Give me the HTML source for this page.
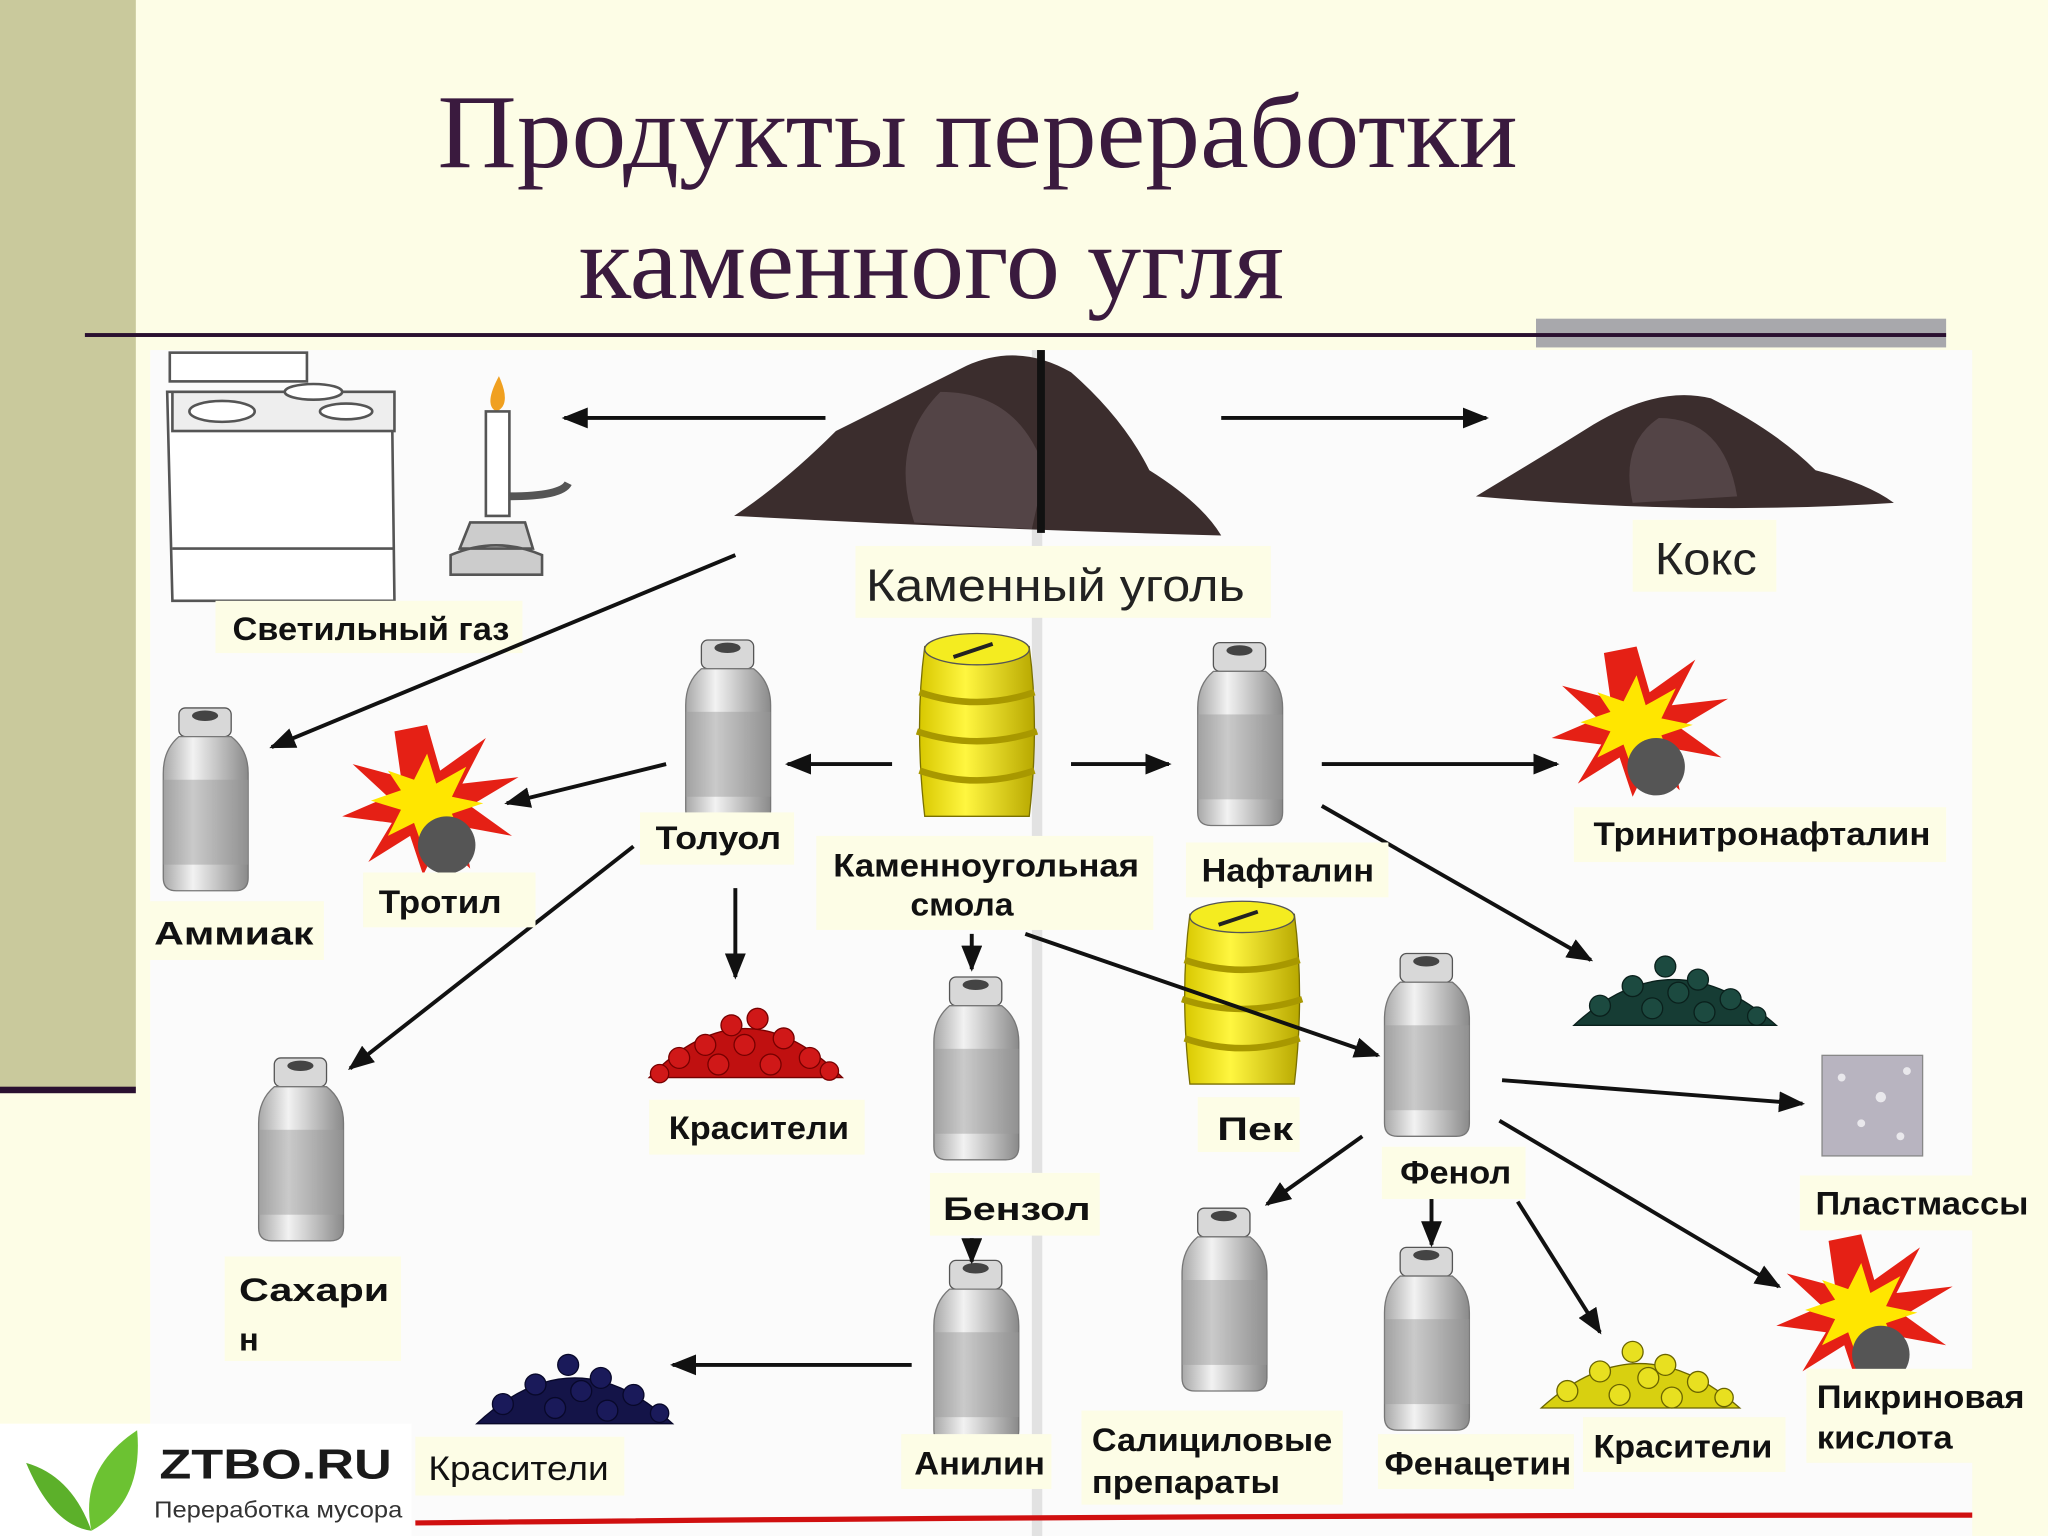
<!DOCTYPE html>
<html><head><meta charset="utf-8"><style>
html,body{margin:0;padding:0;background:#fdfde6;}
svg{display:block;}
text{font-family:"Liberation Sans","DejaVu Sans",sans-serif;}
.t{font-family:"Liberation Serif",serif;fill:#3a1a3e;}
.l{font-weight:bold;font-size:25px;fill:#111;}
.lb{fill:#fdfde6;}
</style></head><body>
<svg width="2048" height="1536" viewBox="0 0 1568 1176" xmlns="http://www.w3.org/2000/svg">
<defs>
<marker id="ah" markerWidth="20" markerHeight="16" refX="18" refY="8" orient="auto" markerUnits="userSpaceOnUse"><path d="M0,0 L20,8 L0,16 z" fill="#111"/></marker>
<linearGradient id="bg" x1="0" x2="1"><stop offset="0" stop-color="#a8a8a8"/><stop offset="0.35" stop-color="#f2f2f2"/><stop offset="1" stop-color="#8a8a8a"/></linearGradient>
<linearGradient id="yg" x1="0" x2="1"><stop offset="0" stop-color="#d8c800"/><stop offset="0.4" stop-color="#fff640"/><stop offset="1" stop-color="#b8a800"/></linearGradient>
<g id="bottle">
<rect x="12" y="0" width="40" height="22" rx="5" fill="#d8d8d8" stroke="#555"/>
<ellipse cx="32" cy="6" rx="10" ry="4" fill="#444"/>
<path d="M12,22 Q0,32 0,50 L0,130 Q0,140 10,140 L55,140 Q65,140 65,130 L65,50 Q65,32 52,22 z" fill="url(#bg)" stroke="#777"/>
<rect x="0" y="55" width="65" height="65" fill="#999" opacity="0.45"/>
</g>
<g id="barrel">
<path d="M8,10 Q0,70 8,140 L88,140 Q96,70 88,10 z" fill="url(#yg)" stroke="#7a7000"/>
<ellipse cx="48" cy="12" rx="40" ry="12" fill="#f4ec20" stroke="#555"/>
<path d="M4,45 Q48,60 92,45 M2,75 Q48,90 94,75 M4,105 Q48,120 92,105" stroke="#a89800" stroke-width="5" fill="none"/>
<path d="M30,18 L60,8" stroke="#222" stroke-width="3"/>
</g>
<g id="boom">
<polygon points="65,0 75,35 110,10 92,45 135,40 98,62 130,85 92,78 98,110 75,88 62,115 52,85 20,105 38,75 0,70 35,55 8,30 45,40 40,5" fill="#e52015"/>
<polygon points="65,22 72,45 95,32 84,55 108,60 84,68 92,88 70,76 62,95 55,75 35,85 45,65 22,58 45,50 35,35 55,42" fill="#ffe600"/>
<circle cx="80" cy="92" r="22" fill="#555"/>
</g>
</defs>
<rect width="1568" height="1176" fill="#fdfde6"/>
<rect x="0" y="0" width="104" height="835" fill="#c9c99c"/>
<rect x="0" y="832" width="104" height="5" fill="#2a1030"/>
<text class="t" x="335" y="128" font-size="80" textLength="827" lengthAdjust="spacingAndGlyphs">Продукты переработки</text>
<text class="t" x="443" y="228" font-size="80" textLength="540" lengthAdjust="spacingAndGlyphs">каменного угля</text>
<rect x="1176" y="244" width="314" height="22" fill="#a8a8ac"/>
<rect x="65" y="255" width="1425" height="3" fill="#2a1030"/>
<rect x="115" y="268" width="1395" height="908" fill="#fbfbfb"/>
<rect x="790" y="268" width="8" height="908" fill="#e2e2e2"/>
<g stroke="#555" fill="#fff" stroke-width="2">
<rect x="130" y="270" width="105" height="22"/>
<path d="M128,300 L300,300 L302,460 L132,460 z"/>
<rect x="132" y="300" width="170" height="30" fill="#eee"/>
<ellipse cx="170" cy="315" rx="25" ry="8"/><ellipse cx="240" cy="300" rx="22" ry="6"/><ellipse cx="265" cy="315" rx="20" ry="6"/>
<line x1="132" y1="420" x2="302" y2="420"/>
</g>
<path d="M382,288 Q370,310 380,315 Q392,310 382,288z" fill="#f0a020"/>
<rect x="372" y="315" width="18" height="80" fill="#fff" stroke="#555" stroke-width="2"/>
<path d="M360,400 L402,400 L408,420 L352,420z M345,425 Q380,410 415,425 L415,440 L345,440z" fill="#ccc" stroke="#555" stroke-width="2"/>
<path d="M390,380 Q430,380 435,370" stroke="#555" stroke-width="6" fill="none"/>
<path d="M562,395 Q600,370 640,330 Q700,300 740,280 Q780,262 820,285 Q860,320 880,360 Q920,385 935,410 Q750,405 562,395z" fill="#3b2d2d"/>
<path d="M720,300 Q780,300 800,360 L790,405 L700,400 Q680,340 720,300z" fill="#5a4a4c" opacity="0.8"/>
<rect x="794" y="268" width="6" height="140" fill="#111"/>
<path d="M1130,380 Q1180,350 1220,325 Q1270,295 1310,305 Q1360,330 1390,360 Q1430,370 1450,385 Q1300,395 1130,380z" fill="#3b2d2d"/>
<path d="M1270,320 Q1320,320 1330,380 L1250,385 Q1240,340 1270,320z" fill="#5a4a4c" opacity="0.8"/>
<rect x="655" y="418" width="318" height="55" class="lb"/>
<text x="663" y="460" font-size="35" fill="#222" textLength="290" lengthAdjust="spacingAndGlyphs">Каменный уголь</text>
<rect x="1250" y="398" width="110" height="55" class="lb"/>
<text x="1267" y="440" font-size="35" fill="#222" textLength="78" lengthAdjust="spacingAndGlyphs">Кокс</text>
<rect x="165" y="460" width="235" height="40" class="lb"/>
<text class="l" x="178" y="490" textLength="212" lengthAdjust="spacingAndGlyphs">Светильный газ</text>
<use href="#bottle" x="125" y="542"/>
<use href="#bottle" x="525" y="490"/>
<use href="#bottle" x="917" y="492"/>
<use href="#bottle" x="715" y="748"/>
<use href="#bottle" x="1060" y="730"/>
<use href="#bottle" x="198" y="810"/>
<use href="#bottle" x="905" y="925"/>
<use href="#bottle" x="1060" y="955"/>
<use href="#bottle" x="715" y="965"/>
<use href="#barrel" x="700" y="485"/>
<use href="#barrel" x="903" y="690"/>
<use href="#boom" x="262" y="555"/>
<use href="#boom" x="1188" y="495"/>
<use href="#boom" x="1360" y="945"/>
<g fill="#d01818" stroke="#700" stroke-width="1">
<path d="M497,825 Q570,750 645,825z" fill="#c01010"/>
<circle cx="520" cy="810" r="8"/><circle cx="540" cy="800" r="8"/><circle cx="560" cy="785" r="8"/><circle cx="580" cy="780" r="8"/><circle cx="600" cy="795" r="8"/><circle cx="620" cy="810" r="8"/><circle cx="550" cy="815" r="8"/><circle cx="590" cy="815" r="8"/><circle cx="570" cy="800" r="8"/><circle cx="635" cy="820" r="7"/><circle cx="505" cy="822" r="7"/>
</g>
<g fill="#1c4a40" stroke="#0a201c">
<path d="M1205,785 Q1280,715 1360,785z" fill="#163c34"/>
<circle cx="1225" cy="770" r="8"/><circle cx="1250" cy="755" r="8"/><circle cx="1275" cy="740" r="8"/><circle cx="1300" cy="750" r="8"/><circle cx="1325" cy="765" r="8"/><circle cx="1345" cy="778" r="7"/><circle cx="1265" cy="772" r="8"/><circle cx="1305" cy="775" r="8"/><circle cx="1285" cy="760" r="8"/>
</g>
<g fill="#1a1a5a" stroke="#08082a">
<path d="M365,1090 Q440,1020 515,1090z" fill="#141448"/>
<circle cx="385" cy="1075" r="8"/><circle cx="410" cy="1060" r="8"/><circle cx="435" cy="1045" r="8"/><circle cx="460" cy="1055" r="8"/><circle cx="485" cy="1068" r="8"/><circle cx="505" cy="1082" r="7"/><circle cx="425" cy="1078" r="8"/><circle cx="465" cy="1080" r="8"/><circle cx="445" cy="1065" r="8"/>
</g>
<g fill="#e8e020" stroke="#6a6400">
<path d="M1180,1078 Q1255,1010 1332,1078z" fill="#d8d010"/>
<circle cx="1200" cy="1065" r="8"/><circle cx="1225" cy="1050" r="8"/><circle cx="1250" cy="1035" r="8"/><circle cx="1275" cy="1045" r="8"/><circle cx="1300" cy="1058" r="8"/><circle cx="1320" cy="1070" r="7"/><circle cx="1240" cy="1068" r="8"/><circle cx="1280" cy="1070" r="8"/><circle cx="1262" cy="1055" r="8"/>
</g>
<rect x="1395" y="808" width="77" height="77" fill="#b8b4c0" stroke="#888"/>
<g fill="#fff" opacity="0.7"><circle cx="1410" cy="825" r="3"/><circle cx="1440" cy="840" r="4"/><circle cx="1425" cy="860" r="3"/><circle cx="1455" cy="870" r="3"/><circle cx="1460" cy="820" r="3"/></g>
<g stroke="#111" stroke-width="3" fill="none" marker-end="url(#ah)">
<line x1="632" y1="320" x2="432" y2="320"/>
<line x1="935" y1="320" x2="1138" y2="320"/>
<line x1="563" y1="425" x2="208" y2="572"/>
<line x1="683" y1="585" x2="603" y2="585"/>
<line x1="820" y1="585" x2="895" y2="585"/>
<line x1="1012" y1="585" x2="1192" y2="585"/>
<line x1="510" y1="585" x2="388" y2="615"/>
<line x1="485" y1="648" x2="268" y2="818"/>
<line x1="563" y1="680" x2="563" y2="748"/>
<line x1="744" y1="715" x2="744" y2="742"/>
<line x1="785" y1="715" x2="1055" y2="808"/>
<line x1="1012" y1="617" x2="1218" y2="735"/>
<line x1="1150" y1="827" x2="1380" y2="845"/>
<line x1="1148" y1="858" x2="1362" y2="985"/>
<line x1="1043" y1="870" x2="970" y2="922"/>
<line x1="1096" y1="918" x2="1096" y2="953"/>
<line x1="1162" y1="920" x2="1225" y2="1020"/>
<line x1="744" y1="948" x2="744" y2="966"/>
<line x1="698" y1="1045" x2="515" y2="1045"/>
</g>
<rect x="490" y="622" width="118" height="40" class="lb"/><text class="l" x="502" y="650" textLength="96" lengthAdjust="spacingAndGlyphs">Толуол</text>
<rect x="625" y="640" width="258" height="72" class="lb"/><text class="l" x="638" y="671" textLength="234" lengthAdjust="spacingAndGlyphs">Каменноугольная</text><text class="l" x="697" y="701" textLength="79" lengthAdjust="spacingAndGlyphs">смола</text>
<rect x="908" y="645" width="155" height="42" class="lb"/><text class="l" x="920" y="675" textLength="132" lengthAdjust="spacingAndGlyphs">Нафталин</text>
<rect x="1205" y="618" width="285" height="42" class="lb"/><text class="l" x="1220" y="647" textLength="258" lengthAdjust="spacingAndGlyphs">Тринитронафталин</text>
<rect x="108" y="690" width="140" height="45" class="lb"/><text class="l" x="118" y="723" font-size="28" textLength="122" lengthAdjust="spacingAndGlyphs">Аммиак</text>
<rect x="278" y="668" width="132" height="42" class="lb"/><text class="l" x="290" y="699" textLength="94" lengthAdjust="spacingAndGlyphs">Тротил</text>
<rect x="497" y="842" width="165" height="42" class="lb"/><text class="l" x="512" y="872" textLength="138" lengthAdjust="spacingAndGlyphs">Красители</text>
<rect x="917" y="840" width="78" height="42" class="lb"/><text class="l" x="932" y="873" font-size="29" textLength="58" lengthAdjust="spacingAndGlyphs">Пек</text>
<rect x="712" y="898" width="130" height="48" class="lb"/><text class="l" x="722" y="934" font-size="29" textLength="113" lengthAdjust="spacingAndGlyphs">Бензол</text>
<rect x="1058" y="878" width="110" height="40" class="lb"/><text class="l" x="1072" y="906" textLength="85" lengthAdjust="spacingAndGlyphs">Фенол</text>
<rect x="1378" y="900" width="180" height="42" class="lb"/><text class="l" x="1390" y="930" textLength="163" lengthAdjust="spacingAndGlyphs">Пластмассы</text>
<rect x="172" y="962" width="135" height="80" class="lb"/><text class="l" x="183" y="996" font-size="29" textLength="115" lengthAdjust="spacingAndGlyphs">Сахари</text><text class="l" x="183" y="1034" font-size="29">н</text>
<rect x="1383" y="1048" width="175" height="72" class="lb"/><text class="l" x="1391" y="1078" textLength="159" lengthAdjust="spacingAndGlyphs">Пикриновая</text><text class="l" x="1391" y="1109" textLength="104" lengthAdjust="spacingAndGlyphs">кислота</text>
<rect x="828" y="1080" width="200" height="72" class="lb"/><text class="l" x="836" y="1111" textLength="184" lengthAdjust="spacingAndGlyphs">Салициловые</text><text class="l" x="836" y="1143" textLength="144" lengthAdjust="spacingAndGlyphs">препараты</text>
<rect x="1055" y="1098" width="150" height="42" class="lb"/><text class="l" x="1060" y="1129" textLength="143" lengthAdjust="spacingAndGlyphs">Фенацетин</text>
<rect x="1212" y="1085" width="155" height="42" class="lb"/><text class="l" x="1220" y="1116" textLength="137" lengthAdjust="spacingAndGlyphs">Красители</text>
<rect x="690" y="1098" width="115" height="42" class="lb"/><text class="l" x="700" y="1129" textLength="100" lengthAdjust="spacingAndGlyphs">Анилин</text>
<rect x="318" y="1100" width="160" height="45" class="lb"/><text x="328" y="1133" font-size="26" fill="#111" textLength="138" lengthAdjust="spacingAndGlyphs">Красители</text>
<rect x="0" y="1090" width="315" height="86" fill="#fff"/>
<path d="M20,1120 Q55,1130 70,1172 Q40,1168 20,1120z" fill="#5cb02a"/>
<path d="M105,1095 Q110,1150 70,1172 Q60,1125 105,1095z" fill="#6cc232"/>
<text x="122" y="1132" font-size="32" font-weight="bold" fill="#1a1a1a" textLength="178" lengthAdjust="spacingAndGlyphs">ZTBO.RU</text>
<text x="118" y="1162" font-size="18" fill="#333" textLength="190" lengthAdjust="spacingAndGlyphs">Переработка мусора</text>
<path d="M318,1166 Q900,1160 1510,1160" stroke="#d01010" stroke-width="4" fill="none"/>
</svg>
</body></html>
